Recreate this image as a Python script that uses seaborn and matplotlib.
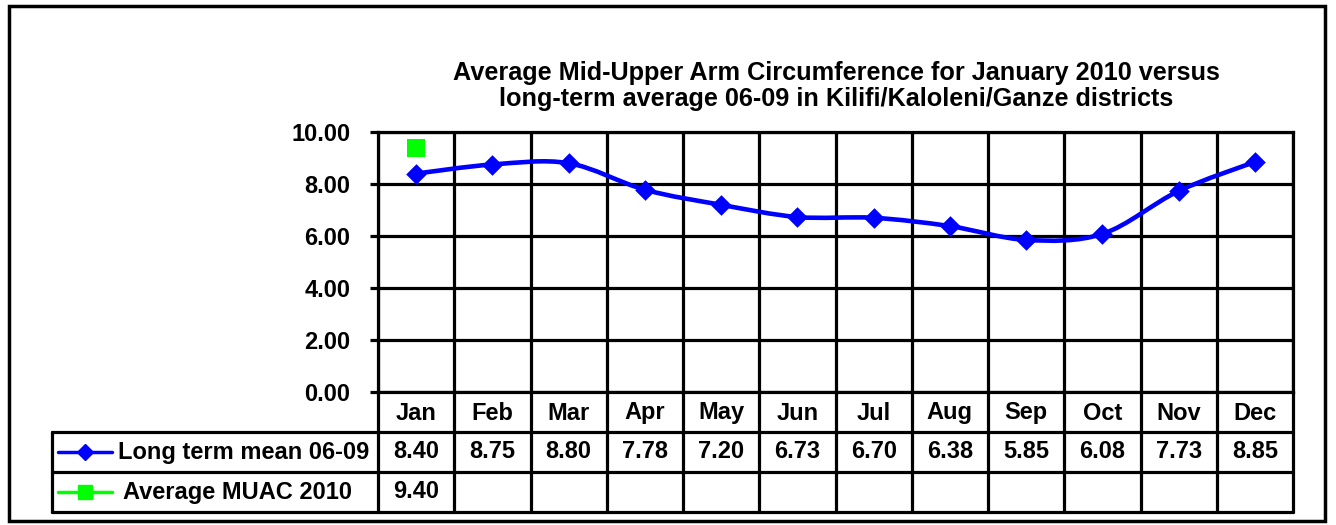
import numpy as np
import matplotlib
matplotlib.use("Agg")
import matplotlib.pyplot as plt
import matplotlib.transforms as mtransforms
from matplotlib.path import Path
from matplotlib.patches import PathPatch, Rectangle
import seaborn as sns
import pandas as pd

months = ["Jan", "Feb", "Mar", "Apr", "May", "Jun", "Jul", "Aug", "Sep", "Oct", "Nov", "Dec"]
long_term = [8.40, 8.75, 8.80, 7.78, 7.20, 6.73, 6.70, 6.38, 5.85, 6.08, 7.73, 8.85]
muac_2010 = [9.40]
series_names = ["Long term mean 06-09", "Average MUAC 2010"]
y_ticks = [0, 2, 4, 6, 8, 10]
title = ("Average Mid-Upper Arm Circumference for January 2010 versus\n"
         "long-term average 06-09 in Kilifi/Kaloleni/Ganze districts")

sns.set_theme(style="white")
plt.rcParams["font.family"] = ["Liberation Sans", "DejaVu Sans"]
plt.rcParams["font.weight"] = "bold"
plt.rcParams["text.color"] = "black"
plt.rcParams["ytick.color"] = "black"
plt.rcParams["ytick.labelcolor"] = "black"

W, H = 1336, 525
fig = plt.figure(figsize=(W / 100, H / 100), dpi=100)
L, R, T, B = 378, 1293, 132, 392
ax = fig.add_axes([L / W, 1 - B / H, (R - L) / W, (B - T) / H])

BLUE = "#0000FF"
GREEN = "#00FF00"
FS = 17
TFS = 18.2

x = np.arange(len(months))
df = pd.DataFrame({"month": x, "value": long_term})

# smoothed line (Excel-style Bezier through data points)
pts = np.column_stack([x, long_term]).astype(float)
n = len(pts)
verts = [tuple(pts[0])]
codes = [Path.MOVETO]
for i in range(n - 1):
    p0 = pts[i - 1] if i > 0 else pts[i]
    p1 = pts[i]
    p2 = pts[i + 1]
    p3 = pts[i + 2] if i + 2 < n else pts[i + 1]
    c1 = p1 + (p2 - p0) / 6.0
    c2 = p2 - (p3 - p1) / 6.0
    verts += [tuple(c1), tuple(c2), tuple(p2)]
    codes += [Path.CURVE4] * 3
ax.add_patch(PathPatch(Path(verts, codes), fill=False, edgecolor=BLUE, lw=3.3, zorder=3))

sns.scatterplot(data=df, x="month", y="value", marker="D", s=110, color=BLUE,
                edgecolor=BLUE, linewidth=0, ax=ax, zorder=4, legend=False)
df2 = pd.DataFrame({"month": x[:len(muac_2010)], "value": muac_2010})
sns.scatterplot(data=df2, x="month", y="value", marker="s", s=155, color=GREEN,
                edgecolor=GREEN, linewidth=0, ax=ax, zorder=4, legend=False)

ax.set_xlim(-0.5, len(months) - 0.5)
ax.set_ylim(0, 10)
ax.set_yticks(y_ticks)
ax.set_yticklabels([f"{v:.2f}" for v in y_ticks], fontsize=FS, fontweight="bold", color="black")
ax.set_xticks([])
ax.set_xlabel("")
ax.set_ylabel("")
for yv in y_ticks:
    ax.axhline(yv, color="black", lw=2.3, zorder=1)
for xb in np.arange(-0.5, len(months), 1.0):
    ax.axvline(xb, color="black", lw=2.3, zorder=1)
for s in ax.spines.values():
    s.set_visible(True)
    s.set_color("black")
    s.set_linewidth(2.3)
ax.tick_params(axis="y", length=6, width=2.3, color="black", left=True, pad=14)

# data table below the plot
tr = mtransforms.blended_transform_factory(ax.transData, ax.transAxes)
ph = B - T
def fy(py):
    return -(py - B) / ph

x_left = -0.5 - (L - 52) / ((R - L) / 12)
y_hdr = fy(432)
y_r1 = fy(472)
y_r2 = fy(512)
for yy in (y_hdr, y_r1, y_r2):
    ax.plot([x_left, 11.5], [yy, yy], color="black", lw=2.3, transform=tr, clip_on=False)
ax.plot([x_left, x_left], [y_hdr, y_r2], color="black", lw=2.3, transform=tr, clip_on=False)
for xb in np.arange(-0.5, len(months), 1.0):
    ax.plot([xb, xb], [0, y_r2], color="black", lw=2.3, transform=tr, clip_on=False)

for i, m in enumerate(months):
    ax.text(i, fy(413), m, ha="center", va="center", fontsize=FS,
            fontweight="bold", transform=tr)
    ax.text(i, (y_hdr + y_r1) / 2, f"{long_term[i]:.2f}", ha="center", va="center",
            fontsize=FS, fontweight="bold", transform=tr)
for i, v in enumerate(muac_2010):
    ax.text(i, (y_r1 + y_r2) / 2, f"{v:.2f}", ha="center", va="center",
            fontsize=FS, fontweight="bold", transform=tr)

def px2x(px):
    return -0.5 + (px - L) / ((R - L) / 12)

ym1 = (y_hdr + y_r1) / 2
ym2 = (y_r1 + y_r2) / 2
ax.plot([px2x(58), px2x(112)], [ym1, ym1], color=BLUE, lw=2.5, transform=tr, clip_on=False)
ax.plot([px2x(85)], [ym1], marker="D", ms=8, color=BLUE, transform=tr, clip_on=False)
ax.plot([px2x(58), px2x(112)], [ym2, ym2], color=GREEN, lw=2.5, transform=tr, clip_on=False)
ax.plot([px2x(85)], [ym2], marker="s", ms=9.5, color=GREEN, transform=tr, clip_on=False)
ax.text(px2x(118), ym1, series_names[0], ha="left", va="center", fontsize=FS,
        fontweight="bold", transform=tr)
ax.text(px2x(123), ym2, series_names[1], ha="left", va="center", fontsize=FS,
        fontweight="bold", transform=tr)

fig.text(836 / W, 1 - 86 / H, title, ha="center", va="center", fontsize=TFS,
         fontweight="bold", linespacing=1.15, color="black")

fig.patches.append(Rectangle((9 / W, 1 - 521 / H), (1325 - 9) / W, (521 - 6) / H,
                             transform=fig.transFigure, fill=False, edgecolor="black",
                             lw=2.5, zorder=0))

fig.savefig("out.png", dpi=100, facecolor="white")
